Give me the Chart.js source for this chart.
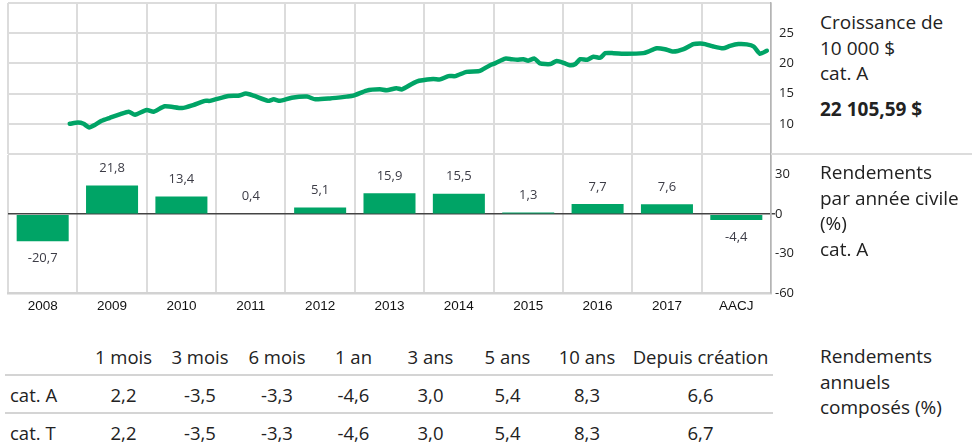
<!DOCTYPE html>
<html>
<head>
<meta charset="utf-8">
<script src="https://cdn.jsdelivr.net/npm/chart.js@4/dist/chart.umd.min.js"></script>
<style>
  html, body { margin: 0; padding: 0; background: #fff; }
  body { width: 975px; height: 444px; position: relative; overflow: hidden; font-family: "Open Sans", "Noto Sans", sans-serif; color: #222; }
  #c1 { position: absolute; left: 0; top: 0; }
  #c2 { position: absolute; left: 0; top: 155px; }
  .side { position: absolute; left: 820px; font-size: 19px; line-height: 25.5px; color: #222; }
  .side b { display: block; margin-top: 10px; font-weight: 700; }
  .sep { position: absolute; left: 771px; top: 153px; width: 201px; height: 2px; background: #dcdcdc; }
  table { position: absolute; left: 5px; top: 338px; border-collapse: collapse; table-layout: fixed; font-size: 18.5px; color: #222; }
  td { padding: 0; text-align: center; white-space: nowrap; height: 36px; }
  td.lab { text-align: left; padding-left: 5px; }
  tr.row td { border-top: 2px solid #d4d4d4; }
</style>
</head>
<body>
<canvas id="c1" width="800" height="156"></canvas>
<canvas id="c2" width="800" height="165"></canvas>
<div class="sep"></div>
<div class="side" style="top:10px">Croissance de<br>10 000 $<br>cat. A<b id="finalVal"></b></div>
<div class="side" style="top:160px">Rendements<br>par année civile<br>(%)<br>cat. A</div>
<div class="side" style="top:344px">Rendements<br>annuels<br>composés (%)</div>
<table id="tbl"></table>
<script>
// ---- Data ----
const yearLabels = ['2008','2009','2010','2011','2012','2013','2014','2015','2016','2017','AACJ'];
const annualReturns = [-20.7, 21.8, 13.4, 0.4, 5.1, 15.9, 15.5, 1.3, 7.7, 7.6, -4.4];

// growth of 10 000 $ (in thousands), x as decimal year
const growthDates = [2008.89, 2009.01, 2009.09, 2009.17, 2009.25, 2009.35, 2009.47, 2009.62, 2009.74, 2009.83,
  2010.00, 2010.10, 2010.26, 2010.51, 2010.67, 2010.84, 2010.91, 2011.18, 2011.32, 2011.43,
  2011.54, 2011.75, 2011.83, 2011.92, 2012.09, 2012.31, 2012.43, 2012.64, 2012.88, 2012.98,
  2013.17, 2013.36, 2013.46, 2013.60, 2013.68, 2013.89, 2014.13, 2014.23, 2014.35, 2014.45,
  2014.61, 2014.78, 2014.83, 2014.95, 2015.02, 2015.17, 2015.26, 2015.34, 2015.43, 2015.50,
  2015.59, 2015.67, 2015.82, 2015.91, 2016.01, 2016.10, 2016.18, 2016.25, 2016.35, 2016.44,
  2016.54, 2016.61, 2016.73, 2016.92, 2017.16, 2017.23, 2017.35, 2017.47, 2017.59, 2017.74,
  2017.88, 2017.98, 2018.05, 2018.17, 2018.31, 2018.41, 2018.53, 2018.65, 2018.75, 2018.84, 2018.94];
const growthValues = [10.0, 10.2, 10.0, 9.4, 9.8, 10.5, 11.0, 11.6, 12.0, 11.5,
  12.3, 12.0, 12.9, 12.6, 13.1, 13.8, 13.8, 14.6, 14.65, 15.0,
  14.65, 13.8, 14.05, 13.8, 14.3, 14.5, 14.05, 14.2, 14.5, 14.65,
  15.5, 15.7, 15.55, 15.9, 15.7, 17.0, 17.4, 17.35, 17.9, 17.9,
  18.6, 18.7, 18.9, 19.7, 20.0, 20.8, 20.7, 20.6, 20.7, 20.45,
  20.8, 20.0, 19.9, 20.4, 20.1, 19.7, 19.9, 20.7, 20.6, 21.1,
  20.95, 21.7, 21.7, 21.6, 21.7, 21.95, 22.5, 22.35, 21.95, 22.35,
  23.2, 23.3, 23.2, 22.8, 22.5, 22.9, 23.2, 23.15, 22.8, 21.6, 22.1];
const growthTicks = [5, 10, 15, 20, 25, 30];
const growthTickLabels = [10, 15, 20, 25];
const returnTicks = [-60, -30, 0, 30];
const finalValue = '22 105,59 $';

const periods = ['1 mois', '3 mois', '6 mois', '1 an', '3 ans', '5 ans', '10 ans', 'Depuis création'];
const classNames = ['cat. A', 'cat. T'];
const classA = [2.2, -3.5, -3.3, -4.6, 3.0, 5.4, 8.3, 6.6];
const classT = [2.2, -3.5, -3.3, -4.6, 3.0, 5.4, 8.3, 6.7];

// ---- helpers ----
const fmt = v => v.toFixed(1).replace('.', ',');
const GREEN = '#00a466';
const GRID = '#dcdcdc';
const AXIS = '#b4b4b4';

document.getElementById('finalVal').textContent = finalValue;

// table
const colW = [81, 75, 78, 76, 77, 77, 77, 82, 145];
(function buildTable() {
  const t = document.getElementById('tbl');
  const cg = document.createElement('colgroup');
  colW.forEach(w => { const c = document.createElement('col'); c.style.width = w + 'px'; cg.appendChild(c); });
  t.appendChild(cg);
  const hr = document.createElement('tr');
  hr.innerHTML = '<td class="lab"></td>' + periods.map(p => '<td>' + p + '</td>').join('');
  t.appendChild(hr);
  [classA, classT].forEach((arr, i) => {
    const r = document.createElement('tr');
    r.className = 'row';
    r.innerHTML = '<td class="lab">' + classNames[i] + '</td>' + arr.map(v => '<td>' + fmt(v) + '</td>').join('');
    t.appendChild(r);
  });
})();

Chart.defaults.font.family = '"Open Sans", "Noto Sans", sans-serif';
Chart.defaults.color = '#222';
Chart.defaults.animation = false;

// ---- growth line chart ----
new Chart(document.getElementById('c1'), {
  type: 'line',
  data: {
    datasets: [{
      data: growthDates.map((d, i) => ({ x: d, y: growthValues[i] })),
      borderColor: GREEN,
      borderWidth: 4.5,
      pointRadius: 0,
      tension: 0.2,
      borderJoinStyle: 'round',
      borderCapStyle: 'round'
    }]
  },
  options: {
    responsive: false,
    layout: { padding: { left: 8, top: 3, right: 0, bottom: 2 } },
    plugins: { legend: { display: false }, tooltip: { enabled: false } },
    scales: {
      x: {
        type: 'linear', min: 2008, max: 2019,
        ticks: { display: false, stepSize: 1 },
        grid: { color: GRID, lineWidth: 2, drawTicks: false },
        border: { display: false },
        afterFit: s => { s.height = 0; s.paddingLeft = 0; s.paddingRight = 0; }
      },
      y: {
        position: 'right', min: 5, max: 30,
        afterBuildTicks: s => { s.ticks = growthTicks.map(v => ({ value: v })); },
        ticks: {
          padding: 8, font: { size: 13 }, color: '#222',
          callback: v => growthTickLabels.includes(v) ? String(v) : ''
        },
        grid: { color: GRID, lineWidth: 2, drawTicks: false },
        border: { display: true, color: AXIS, width: 1.5 },
        afterFit: s => { s.width = 29; s.paddingTop = 0; s.paddingBottom = 0; }
      }
    }
  }
});

// ---- annual returns bar chart ----
const barLabels = {
  id: 'barLabels',
  afterDatasetsDraw(chart) {
    const ctx = chart.ctx;
    const meta = chart.getDatasetMeta(0);
    ctx.save();
    ctx.font = '13px "Open Sans", "Noto Sans", sans-serif';
    ctx.fillStyle = '#3c3c46';
    ctx.textAlign = 'center';
    ctx.textBaseline = 'middle';
    meta.data.forEach((el, i) => {
      const v = annualReturns[i];
      const y = v >= 0 ? el.y - 17 : el.y + 17;
      ctx.fillText(fmt(v), el.x, y);
    });
    ctx.restore();
  }
};

new Chart(document.getElementById('c2'), {
  type: 'bar',
  data: {
    labels: yearLabels,
    datasets: [{
      data: annualReturns,
      backgroundColor: GREEN,
      borderWidth: 0,
      barPercentage: 0.75,
      categoryPercentage: 1
    }]
  },
  plugins: [barLabels],
  options: {
    responsive: false,
    layout: { padding: { left: 8, top: 0, right: 0, bottom: 0 } },
    plugins: { legend: { display: false }, tooltip: { enabled: false } },
    scales: {
      x: {
        ticks: { padding: 5, font: { family: '"Liberation Sans", Arial, sans-serif', size: 13.5 }, color: '#111' },
        grid: { color: GRID, lineWidth: 2, drawTicks: false, offset: true },
        border: { display: true, color: '#d2d2d2', width: 2.5 },
        afterFit: s => { s.height = 27; s.paddingLeft = 0; s.paddingRight = 0; }
      },
      y: {
        position: 'right', min: -60, max: 45,
        afterBuildTicks: s => { s.ticks = returnTicks.map(v => ({ value: v })); },
        ticks: { padding: 0, font: { size: 13 }, color: '#222' },
        grid: {
          color: c => c.tick && c.tick.value === 0 ? '#444' : 'rgba(0,0,0,0)',
          tickColor: c => c.tick && c.tick.value === 0 ? '#444' : 'rgba(0,0,0,0)',
          lineWidth: 1.5, tickLength: 4, drawTicks: true
        },
        border: { display: true, color: AXIS, width: 1.5 },
        afterFit: s => { s.width = 29; s.paddingTop = 0; s.paddingBottom = 0; }
      }
    }
  }
});
</script>
</body>
</html>
